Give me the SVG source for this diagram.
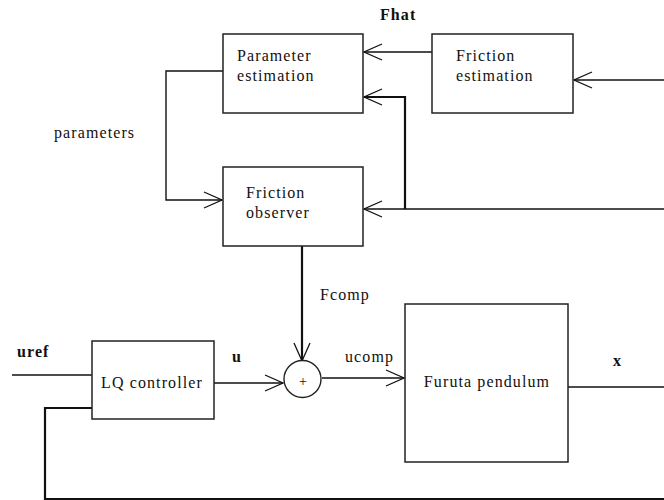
<svg xmlns="http://www.w3.org/2000/svg" width="664" height="500" viewBox="0 0 664 500">
<style>
.box{fill:#fff;stroke:#222;stroke-width:1.5}
.ln{fill:none;stroke:#111;stroke-width:1.4}
.thk{stroke-width:2.2}
.t text{font-size:16px;fill:#111;letter-spacing:1.1px}
.b{font-weight:bold}
</style>
<defs>
<marker id="v" markerUnits="userSpaceOnUse" markerWidth="24" markerHeight="20" viewBox="-20 -10 22 20" refX="0" refY="0" orient="auto">
<path d="M-18,-8 L0,0 L-18,8" fill="none" stroke="#111" stroke-width="1.3"/>
</marker>
</defs>
<rect width="664" height="500" fill="#fff"/>
<g id="connectors">
<path class="ln" d="M432,52 H364" marker-end="url(#v)"/>
<path class="ln" d="M664,80 H574" marker-end="url(#v)"/>
<path class="ln" d="M664,209 H364" marker-end="url(#v)"/>
<path class="ln thk" d="M405,209 V97 H364" marker-end="url(#v)"/>
<path class="ln" d="M223,71 H166 V200 H222" marker-end="url(#v)"/>
<path class="ln thk" d="M302,246 V361" marker-end="url(#v)"/>
<path class="ln" d="M214,383 H283" marker-end="url(#v)"/>
<path class="ln" d="M322,378 H404" marker-end="url(#v)"/>
<path class="ln" d="M568,387 H664"/>
<path class="ln" d="M12,375 H92"/>
<path class="ln thk" d="M664,499 H45 V408 H92"/>
</g>
<g class="t" font-family="Liberation Serif, DejaVu Serif, serif">
<g id="param-est">
<rect class="box" x="223" y="34" width="140" height="79"/>
<text x="237" y="61">Parameter</text>
<text x="237" y="81">estimation</text>
</g>
<g id="fric-est">
<rect class="box" x="432" y="34" width="141" height="79"/>
<text x="456" y="61">Friction</text>
<text x="456" y="81">estimation</text>
</g>
<g id="fric-obs">
<rect class="box" x="223" y="167" width="140" height="79"/>
<text x="246" y="198">Friction</text>
<text x="246" y="218">observer</text>
</g>
<g id="lq">
<rect class="box" x="92" y="341" width="122" height="78"/>
<text x="152" y="388" text-anchor="middle">LQ controller</text>
</g>
<g id="sum">
<circle cx="302.5" cy="379" r="18.5" fill="#fff" stroke="#222" stroke-width="1.4"/>
<text x="303" y="386" text-anchor="middle" style="font-size:14px;letter-spacing:0">+</text>
</g>
<g id="furuta">
<rect class="box" x="405" y="304" width="163" height="158"/>
<text x="487" y="387" text-anchor="middle">Furuta pendulum</text>
</g>
<g id="labels">
<text class="b" x="380" y="20">Fhat</text>
<text x="54" y="138">parameters</text>
<text x="320" y="300">Fcomp</text>
<text class="b" x="17" y="357">uref</text>
<text class="b" x="232" y="362">u</text>
<text x="345" y="362">ucomp</text>
<text class="b" x="613" y="366">x</text>
</g>
</g>
</svg>
